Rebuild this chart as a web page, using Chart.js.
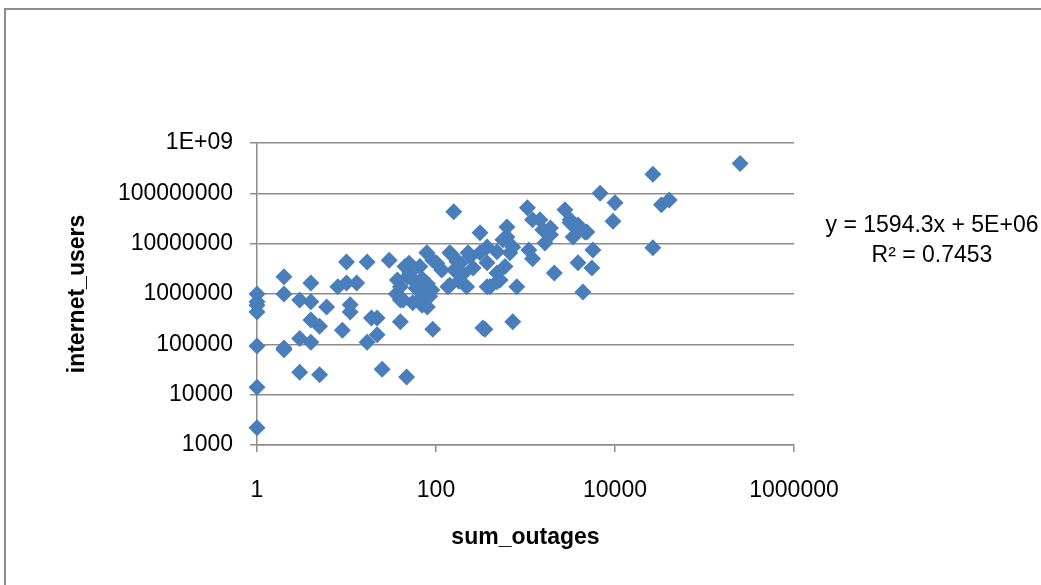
<!DOCTYPE html>
<html>
<head>
<meta charset="utf-8">
<script src="https://cdn.jsdelivr.net/npm/chart.js@4/dist/chart.umd.min.js"></script>
<style>
  html, body { margin: 0; padding: 0; background: #fff; }
  #wrap { position: relative; width: 1041px; height: 585px; }
</style>
</head>
<body>
<div id="wrap"><canvas id="myChart"></canvas></div>
<script>
const sumOutages = [
  1, 1, 1, 1, 1, 1, 1,
  2, 2, 2, 2,
  3, 3, 3,
  4, 4, 4, 4,
  5, 5, 6, 8, 9,
  10, 10, 11, 11, 13, 17, 17, 19, 22, 22, 25,
  30, 36, 37, 40, 40, 40, 43, 45, 47, 48, 50, 51, 55, 55,
  60, 61, 65, 66, 70, 70, 71, 75, 79, 80, 80, 85, 90, 92, 92,
  102, 116, 136, 143, 143, 150, 158, 160, 171, 180, 185,
  200, 220, 228, 240, 260, 310, 310, 334, 352, 372, 372, 372,
  400, 480, 480, 480, 520, 560, 590, 620, 620, 670, 720, 720, 800,
  1050, 1090, 1200, 1200, 1450, 1560, 1650, 1900, 1900, 2100,
  2760, 3150, 3150, 3400, 3860, 3860, 3860, 4380, 4600, 4850,
  5520, 5660, 6820, 9500, 10000, 26500, 26500, 33000, 40300, 250000
];
const internetUsers = [
  1000000, 700000, 600000, 440000, 93000, 14000, 2200,
  2200000, 1000000, 85000, 78000,
  760000, 130000, 28000,
  1650000, 700000, 305000, 110000,
  230000, 25000, 550000, 1400000, 190000,
  4300000, 1650000, 610000, 440000, 1650000, 4300000, 110000, 335000, 335000, 155000, 32000,
  4700000, 1000000, 1900000, 1400000, 760000, 280000, 760000, 3500000, 22500, 2200000, 4100000, 2600000, 1900000, 670000,
  1300000, 1650000, 1200000, 3500000, 2000000, 600000, 900000, 1100000, 6600000, 550000, 1600000, 900000, 1200000, 4700000, 200000,
  4100000, 3000000, 1400000, 6600000, 1500000, 6000000, 43000000, 3000000, 4400000, 1800000, 4100000,
  2500000, 1400000, 6600000, 5500000, 3300000, 16500000, 6600000, 210000, 200000, 8600000, 4200000, 1400000,
  1400000, 6900000, 2600000, 1750000, 1900000, 12000000, 3500000, 21500000, 13500000, 6600000, 8600000, 280000, 1400000,
  52000000, 7500000, 30000000, 5000000, 30000000, 19000000, 10300000, 20500000, 15000000, 2600000,
  47000000, 30000000, 26000000, 13500000, 23500000, 19000000, 4200000, 1100000, 17000000, 17000000,
  3300000, 7500000, 100000000, 28000000, 65000000, 240000000, 8300000, 59000000, 74000000, 390000000
];
const xTicks = [1, 100, 10000, 1000000];
const yTicks = [1000, 10000, 100000, 1000000, 10000000, 100000000, 1000000000];
const trendLines = ["y = 1594.3x + 5E+06", "R\u00b2 = 0.7453"];

const gridColor = "#8c8c8c";
const points = sumOutages.map((x, i) => ({ x: x, y: internetUsers[i] }));

// frame, white background and the trendline label
const extras = {
  id: "extras",
  beforeDraw(chart) {
    const ctx = chart.ctx;
    ctx.save();
    ctx.fillStyle = "#fff";
    ctx.fillRect(0, 0, chart.width, chart.height);
    ctx.strokeStyle = "#8c8c8c";
    ctx.lineWidth = 2;
    ctx.beginPath();
    ctx.moveTo(5, chart.height);
    ctx.lineTo(5, 9);
    ctx.lineTo(chart.width, 9);
    ctx.stroke();
    ctx.restore();
  },
  afterDraw(chart) {
    const ctx = chart.ctx;
    ctx.save();
    ctx.fillStyle = "#000";
    ctx.font = "23px 'Liberation Sans'";
    ctx.textAlign = "center";
    ctx.textBaseline = "middle";
    ctx.fillText(trendLines[0], 932, 226);
    ctx.fillText(trendLines[1], 932, 256);
    ctx.restore();
  },
};

new Chart(document.getElementById("myChart"), {
  type: "scatter",
  data: {
    datasets: [
      {
        label: "internet_users",
        data: points,
        pointStyle: "rectRot",
        pointRadius: 8.5,
        pointHoverRadius: 8.5,
        backgroundColor: "#4a7ebb",
        borderWidth: 0,
        clip: false,
      },
    ],
  },
  options: {
    responsive: true,
    maintainAspectRatio: false,
    animation: false,
    events: [],
    layout: { padding: { top: 143, right: 247, left: 0, bottom: 0 } },
    plugins: { legend: { display: false }, tooltip: { enabled: false } },
    scales: {
      x: {
        type: "logarithmic",
        min: 1,
        max: 1000000,
        afterBuildTicks: (scale) => {
          scale.ticks = xTicks.map((v) => ({ value: v }));
        },
        afterFit: (scale) => {
          scale.height = 140;
        },
        grid: {
          drawOnChartArea: false,
          color: gridColor,
          lineWidth: 1.5,
          tickLength: 7,
        },
        border: { color: gridColor, width: 1.5 },
        ticks: {
          color: "#000",
          font: { family: "'Liberation Sans'", size: 23 },
          padding: 25,
          maxRotation: 0,
          autoSkip: false,
          callback: (v) => String(v),
        },
        title: {
          display: true,
          text: "sum_outages",
          color: "#000",
          font: { family: "'Liberation Sans'", size: 23, weight: "bold" },
          padding: { top: 34, bottom: 34 },
        },
      },
      y: {
        type: "logarithmic",
        min: 1000,
        max: 1000000000,
        afterBuildTicks: (scale) => {
          scale.ticks = yTicks.map((v) => ({ value: v }));
        },
        afterFit: (scale) => {
          scale.width = 257;
        },
        grid: {
          color: gridColor,
          lineWidth: 1.5,
          tickLength: 7,
        },
        border: { color: gridColor, width: 1.5 },
        ticks: {
          color: "#000",
          font: { family: "'Liberation Sans'", size: 23 },
          padding: 17,
          autoSkip: false,
          callback: (v) => (v === 1000000000 ? "1E+09" : String(v)),
        },
        title: {
          display: true,
          text: "internet_users",
          color: "#000",
          font: { family: "'Liberation Sans'", size: 23, weight: "bold" },
          padding: { top: 64, bottom: 0 },
        },
      },
    },
  },
  plugins: [extras],
});
</script>
</body>
</html>
